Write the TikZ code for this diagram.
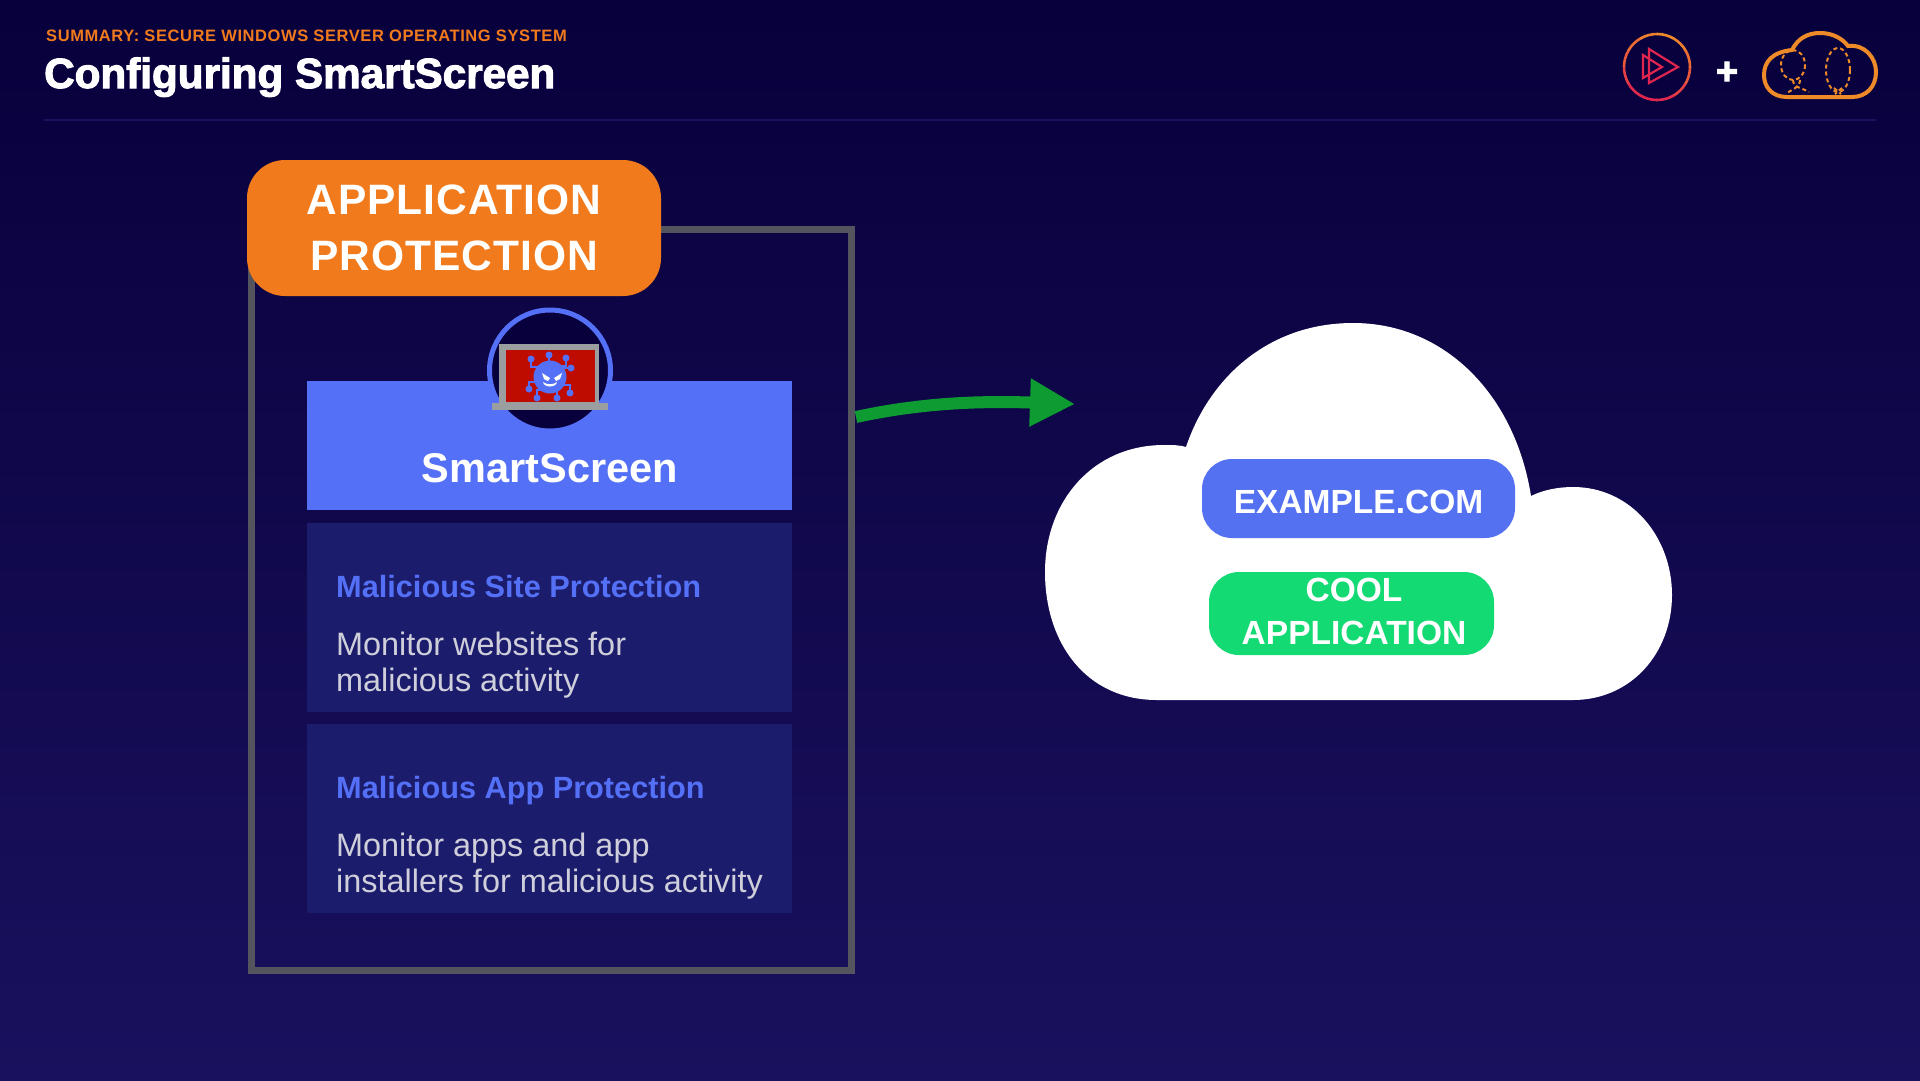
\documentclass[tikz,border=0pt]{standalone}
\usepackage{fontspec}
\setmainfont{Liberation Sans}
\newfontfamily\heavyfont[FakeBold=2.5]{Liberation Sans Bold}
\newfontfamily\smallcapsfont[LetterSpace=3.6]{Liberation Sans Bold}
\newfontfamily\spacedfont[LetterSpace=2.4]{Liberation Sans Bold}
\usetikzlibrary{arrows.meta}
\definecolor{bgtop}{HTML}{08003C}
\definecolor{bgbot}{HTML}{1A115E}
\definecolor{panelblue}{HTML}{1C1C6C}
\definecolor{barblue}{HTML}{5470F6}
\definecolor{pillblue}{HTML}{5371F0}
\definecolor{headorange}{HTML}{F07A1C}
\definecolor{pillgreen}{HTML}{14DA74}
\definecolor{arrowgreen}{HTML}{0E9C32}
\definecolor{framegray}{HTML}{54545E}
\definecolor{screenred}{HTML}{BE0C00}
\definecolor{laptopgray}{HTML}{9A9E9E}
\definecolor{bodygray}{HTML}{CFCFDC}
\definecolor{iconorange}{HTML}{EE8A28}
\definecolor{iconpink}{HTML}{E0264F}
\newcommand{\fs}[2]{\fontsize{#1}{#2}\selectfont}
\tikzset{
	panel/.style={fill=panelblue, minimum width=485pt, minimum height=189pt, inner sep=0pt},
	paneltitle/.style={anchor=base west, inner sep=0pt, text=barblue, font=\fs{30.7}{36}\bfseries},
	paneltext/.style={anchor=north west, inner sep=0pt, text=bodygray, align=left, font=\fs{32.4}{36}},
	pill/.style={inner sep=0pt, rounded corners=30pt},
	pilltext/.style={text=white, inner sep=0pt, align=center, font=\fs{33.5}{43}\bfseries},
	dot/.style={fill=barblue, circle, inner sep=0pt, minimum size=7pt},
	balloon/.style={iconorange, line width=2pt, dash pattern=on 4pt off 3pt},
}
\begin{document}
\begin{tikzpicture}[x=1pt,y=-1pt]
	\useasboundingbox (0,0) rectangle (1920,1080);
	\fill[top color=bgtop, bottom color=bgbot] (0,0) rectangle (1920,1080);
	% header
	\node (Sum) at (46,41) [anchor=base west, inner sep=0pt, text=headorange, font=\fs{16.5}{18}\smallcapsfont] {SUMMARY: SECURE WINDOWS SERVER OPERATING SYSTEM};
	\node (Tit) at (44,88) [anchor=base west, inner sep=0pt, text=white, font=\fs{42.2}{48}\heavyfont] {Configuring SmartScreen};
	\draw[bgbot, line width=2pt] (44,120) -- (1876,120);
	% logos
	\foreach \a/\c in {0/50,30/75,60/95,90/100,120/95,150/75,180/50,210/30,240/10,270/0,300/10,330/30}
		\draw[iconpink!\c!iconorange, line width=2.6pt] (1657,67) ++(\a:33) arc[start angle=\a, delta angle=31, radius=33];
	\draw[iconpink, line width=2.2pt, line join=miter] (1649,49) -- (1678,67) -- (1649,83) -- cycle;
	\draw[iconpink, line width=2.2pt] (1643,55) -- (1662,67) -- (1643,78) -- cycle;
	\node (Plus) at (1727,73) [inner sep=0pt, text=white, font=\fs{38}{38}\heavyfont] {+};
	\draw[iconorange, line width=4pt] (1787,97) .. controls (1772,97) and (1764,87) .. (1764,75) .. controls (1764,62) and (1772,52) .. (1792,50) .. controls (1798,38) and (1808,33) .. (1820,33) .. controls (1832,33) and (1842,38) .. (1848,46) .. controls (1865,44) and (1876,58) .. (1876,72) .. controls (1876,87) and (1866,97) .. (1852,97) -- cycle;
	\draw[balloon] (1793,65) ellipse[x radius=12, y radius=15];
	\draw[balloon] (1793,80) .. controls (1793,88) and (1803,88) .. (1809,92);
	\draw[balloon] (1800,80) .. controls (1800,88) and (1790,90) .. (1786,94);
	\draw[balloon] (1838,70) ellipse[x radius=12, y radius=22];
	\draw[balloon] (1834,88) -- (1841,94);
	\draw[balloon] (1842,88) -- (1835,94);
	% left box
	\node (Frame) at (551.5,600) [draw=framegray, line width=7pt, minimum width=600pt, minimum height=741pt, inner sep=0pt] {};
	\node (App) at (454,228) [fill=headorange, rounded corners=38pt, minimum width=414pt, minimum height=136pt, inner sep=0pt, text=white, align=center, font=\fs{42.5}{56}\spacedfont] {APPLICATION\\PROTECTION};
	\node (Bar) at (549.5,445.5) [fill=barblue, minimum width=485pt, minimum height=129pt, inner sep=0pt] {};
	\node (Smart) at (550,468) [inner sep=0pt, text=white, font=\fs{41.5}{44}\bfseries] {SmartScreen};
	\node (Ring) at (550,370.5) [circle, fill=bgtop, draw=barblue, line width=5pt, minimum size=121pt, inner sep=0pt] {};
	% laptop
	\fill[laptopgray] (499,344) rectangle (599,403);
	\fill[laptopgray] (492,403) rectangle (608,410);
	\fill[screenred] (506,350) rectangle (595,402);
	\foreach \x/\y/\m in {531/359/367,549/355/370,566/358/366,571/368/368,570/393/385,557/398/385,537/398/390,529/389/382}{
		\draw[barblue, line width=1.4pt] (\x,\y) |- (550,\m);
		\node at (\x,\y) [dot] {};
	}
	\fill[barblue] (550,377) circle (16.5);
	\fill[white] (542,373) -- (550,378) -- (548,381) -- (544,379) -- cycle;
	\fill[white] (562,373) -- (554,378) -- (556,381) -- (560,379) -- cycle;
	\fill[white] (543,382) .. controls (547,385) and (553,385) .. (557,382) .. controls (556,388) and (544,388) .. (543,382) -- cycle;
	% panels
	\node (PanA) at (549.5,617.5) [panel] {};
	\node (PanB) at (549.5,818) [panel] {};
	\node (TitA) at (336,597) [paneltitle] {Malicious Site Protection};
	\node (TxtA) at (336,631.5) [paneltext] {Monitor websites for\\malicious activity};
	\node (TitB) at (336,798) [paneltitle] {Malicious App Protection};
	\node (TxtB) at (336,832.5) [paneltext] {Monitor apps and app\\installers for malicious activity};
	% cloud
	\fill[white] (1157,700) .. controls (1086,700) and (1045,643) .. (1045,572) .. controls (1045,501) and (1093,445) .. (1164,445) .. controls (1172,445) and (1180,445) .. (1186,447) .. controls (1210,376) and (1270,323) .. (1353,323) .. controls (1445,323) and (1515,395) .. (1531,496) .. controls (1543,490) and (1558,487) .. (1573,487) .. controls (1631,487) and (1672,537) .. (1672,595) .. controls (1672,653) and (1631,700) .. (1573,700) -- cycle;
	\node (Exa) at (1358.5,498.5) [pill, fill=pillblue, minimum width=313pt, minimum height=79pt] {};
	\node (ExaT) at (1358.5,501.5) [pilltext] {EXAMPLE.COM};
	\node (Coo) at (1351.5,613.5) [pill, fill=pillgreen, minimum width=285pt, minimum height=83pt] {};
	\node (CooT) at (1354,611) [pilltext] {COOL\\APPLICATION};
	% arrow
	\coordinate (Start) at (856,417);
	\coordinate (End) at (1075,404);
	\draw[arrowgreen, line width=12pt, -{Triangle[length=45pt,width=45pt]}] (Start) .. controls (925,402) and (985,401) .. (End);
\end{tikzpicture}
\end{document}
